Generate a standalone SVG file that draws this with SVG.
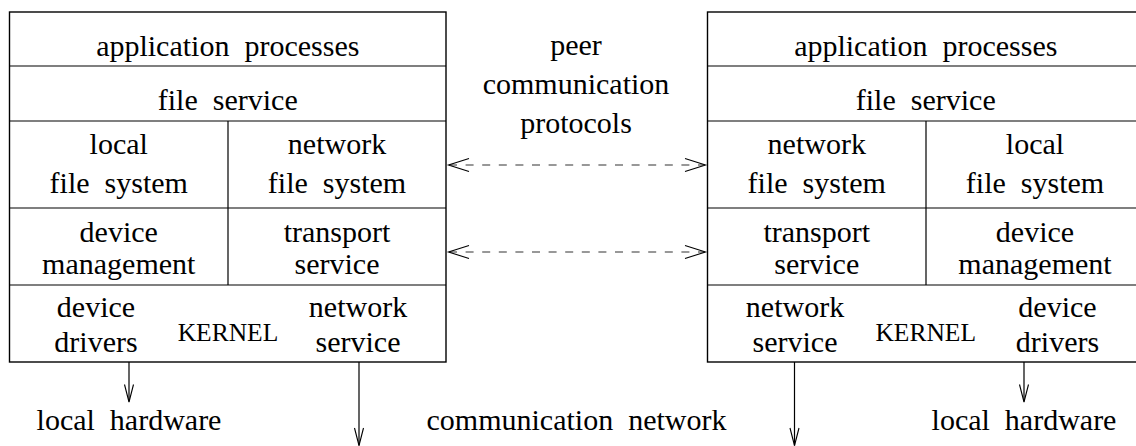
<svg xmlns="http://www.w3.org/2000/svg" width="1136" height="446" viewBox="0 0 1136 446">
<style>
text{font-family:"Liberation Serif","Times New Roman",serif;font-size:30px;fill:#000;text-anchor:middle;word-spacing:7.5px}
.k{font-size:25.5px;word-spacing:0}
.box{fill:none;stroke:#000;stroke-width:1.4}
.ln{stroke:#000;stroke-width:1.2;fill:none}
.dash{stroke:#333;stroke-width:1.2;stroke-dasharray:8 8.6;fill:none}
.hd{stroke:#000;stroke-width:1.1;fill:none}
</style>
<rect width="1136" height="446" fill="#fff"/>
<g id="left-stack">
<rect class="box" x="9.5" y="12" width="436.5" height="350"/>
<path class="ln" d="M9.5 66H446M9.5 121H446M9.5 208H446M9.5 285H446M228 121V285"/>
<text x="227.75" y="55.5">application processes</text>
<text x="227.75" y="110">file service</text>
<text x="118.75" y="153.5">local</text>
<text x="118.75" y="192.5">file system</text>
<text x="337" y="153.5">network</text>
<text x="337" y="192.5">file system</text>
<text x="118.75" y="242">device</text>
<text x="118.75" y="274">management</text>
<text x="337" y="242">transport</text>
<text x="337" y="274">service</text>
<text x="96" y="317">device</text>
<text x="96" y="352">drivers</text>
<text class="k" x="228" y="340.5">KERNEL</text>
<text x="358" y="317">network</text>
<text x="358" y="352">service</text>
</g>
<g id="right-stack">
<rect class="box" x="707.5" y="12" width="436.5" height="350"/>
<path class="ln" d="M707.5 66H1144M707.5 121H1144M707.5 208H1144M707.5 285H1144M926 121V285"/>
<text x="925.75" y="55.5">application processes</text>
<text x="925.75" y="110">file service</text>
<text x="816.75" y="153.5">network</text>
<text x="816.75" y="192.5">file system</text>
<text x="1035" y="153.5">local</text>
<text x="1035" y="192.5">file system</text>
<text x="816.75" y="242">transport</text>
<text x="816.75" y="274">service</text>
<text x="1035" y="242">device</text>
<text x="1035" y="274">management</text>
<text x="795" y="317">network</text>
<text x="795" y="352">service</text>
<text class="k" x="925.75" y="340.5">KERNEL</text>
<text x="1057.5" y="317">device</text>
<text x="1057.5" y="352">drivers</text>
</g>
<g id="peer-label">
<text x="576" y="55">peer</text>
<text x="576" y="94">communication</text>
<text x="576" y="133">protocols</text>
</g>
<g id="bottom-labels">
<text x="129" y="430">local hardware</text>
<text x="576.5" y="430">communication network</text>
<text x="1024" y="430">local hardware</text>
</g>
<g id="connectors">
<path class="dash" d="M449 165H705"/>
<path class="hd" d="M469 158.5L448.5 165L469 171.5M685 158.5L705.5 165L685 171.5"/>
<path class="dash" d="M449 252H705"/>
<path class="hd" d="M469 245.5L448.5 252L469 258.5M685 245.5L705.5 252L685 258.5"/>
<path class="ln" d="M129 362V401.5M359 362V445.5M794.5 362V445.5M1024 362V401.5"/>
<path class="hd" d="M124.5 384.5L129 402L133.5 384.5M354.5 428L359 445.5L363.5 428M790 428L794.5 445.5L799 428M1019.5 384.5L1024 402L1028.5 384.5"/>
</g>
</svg>
